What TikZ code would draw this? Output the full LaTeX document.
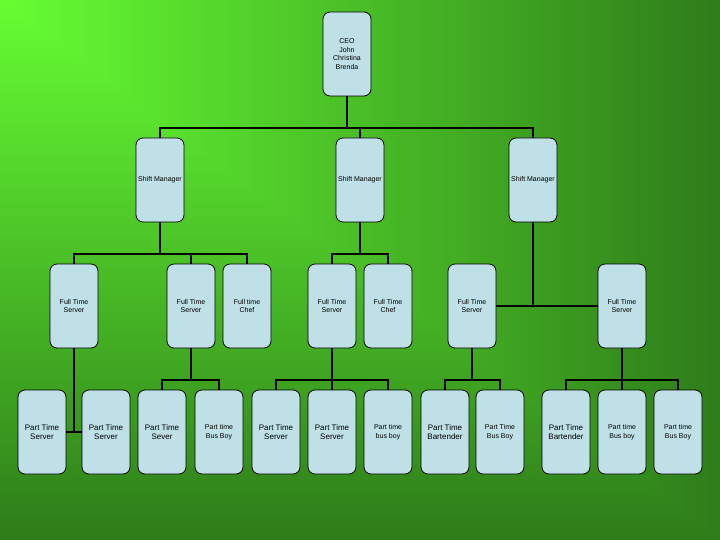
\documentclass[tikz,border=0pt]{standalone}
\usepackage{fontspec}
\setmainfont{Liberation Sans}
\usepackage{tikz}

\definecolor{bgbright}{RGB}{102,255,51}
\definecolor{bgdark}{RGB}{46,125,26}
\definecolor{boxblue}{RGB}{190,224,230}

\begin{document}
\begin{tikzpicture}[x=1pt,y=-1pt,
      box/.style={draw,line width=0.8pt,rounded corners=7pt,fill=boxblue,
        minimum width=48pt,minimum height=84pt,inner sep=0pt,align=center,
        font=\fontsize{7}{8.6}\selectfont},
      big/.style={font=\fontsize{8}{9.3}\selectfont},
      link/.style={line width=2pt}]
    \useasboundingbox (0,0) rectangle (720,540);
    % background, from the top left corner
    \foreach \i in {120,119,...,1}{
      \pgfmathsetmacro{\mix}{100-100*\i/120}
      \fill[bgbright!\mix!bgdark] (0,0) rectangle (6*\i,4.5*\i);
    }

    \node[box] (ceo) at (347,54) {CEO\\John\\Christina\\Brenda};

    \node[box] (sm1) at (160,180) {Shift Manager};
    \node[box] (sm2) at (360,180) {Shift Manager};
    \node[box] (sm3) at (533,180) {Shift Manager};

    \node[box] (fts1) at (74,306) {Full Time\\Server};
    \node[box] (fts2) at (191,306) {Full Time\\Server};
    \node[box] (ftc1) at (247,306) {Full time\\Chef};
    \node[box] (fts3) at (332,306) {Full Time\\Server};
    \node[box] (ftc2) at (388,306) {Full Time\\Chef};
    \node[box] (fts4) at (472,306) {Full Time\\Server};
    \node[box] (fts5) at (622,306) {Full Time\\Server};

    \node[box,big] (pts1) at (42,432) {Part Time\\Server};
    \node[box,big] (pts2) at (106,432) {Part Time\\Server};
    \node[box,big] (pts3) at (162,432) {Part Time\\Sever};
    \node[box] (pbb1) at (219,432) {Part time\\Bus Boy};
    \node[box,big] (pts4) at (276,432) {Part Time\\Server};
    \node[box,big] (pts5) at (332,432) {Part Time\\Server};
    \node[box] (pbb2) at (388,432) {Part time\\bus boy};
    \node[box,big] (ptb1) at (445,432) {Part Time\\Bartender};
    \node[box] (pbb3) at (500,432) {Part Time\\Bus Boy};
    \node[box,big] (ptb2) at (566,432) {Part Time\\Bartender};
    \node[box] (pbb4) at (622,432) {Part time\\Bus boy};
    \node[box] (pbb5) at (678,432) {Part time\\Bus Boy};

    % bus points
    \path (ceo.south) ++(0,32) coordinate (ceobus);
    \path (sm1.south) ++(0,32) coordinate (sm1bus);
    \path (sm2.south) ++(0,32) coordinate (sm2bus);
    \path (fts2.south) ++(0,32) coordinate (fts2bus);
    \path (fts3.south) ++(0,32) coordinate (fts3bus);
    \path (fts4.south) ++(0,32) coordinate (fts4bus);
    \path (fts5.south) ++(0,32) coordinate (fts5bus);

    \draw[link] (ceo.south) -- (ceobus);
    \draw[link] (ceobus) -| (sm1.north);
    \draw[link] (ceobus) -| (sm2.north);
    \draw[link] (ceobus) -| (sm3.north);

    \draw[link] (sm1.south) -- (sm1bus);
    \draw[link] (sm1bus) -| (fts1.north);
    \draw[link] (sm1bus) -| (fts2.north);
    \draw[link] (sm1bus) -| (ftc1.north);

    \draw[link] (sm2.south) -- (sm2bus);
    \draw[link] (sm2bus) -| (fts3.north);
    \draw[link] (sm2bus) -| (ftc2.north);

    \draw[link] (sm3.south) -- (sm3.south |- fts4.east);
    \draw[link] (fts4.east) -- (fts5.west);

    \draw[link] (fts1.south) -- (fts1.south |- pts1.east);
    \draw[link] (pts1.east) -- (pts2.west);

    \draw[link] (fts2.south) -- (fts2bus);
    \draw[link] (fts2bus) -| (pts3.north);
    \draw[link] (fts2bus) -| (pbb1.north);

    \draw[link] (fts3.south) -- (fts3bus);
    \draw[link] (fts3bus) -| (pts4.north);
    \draw[link] (fts3bus) -- (pts5.north);
    \draw[link] (fts3bus) -| (pbb2.north);

    \draw[link] (fts4.south) -- (fts4bus);
    \draw[link] (fts4bus) -| (ptb1.north);
    \draw[link] (fts4bus) -| (pbb3.north);

    \draw[link] (fts5.south) -- (fts5bus);
    \draw[link] (fts5bus) -| (ptb2.north);
    \draw[link] (fts5bus) -- (pbb4.north);
    \draw[link] (fts5bus) -| (pbb5.north);
  \end{tikzpicture}
\end{document}
